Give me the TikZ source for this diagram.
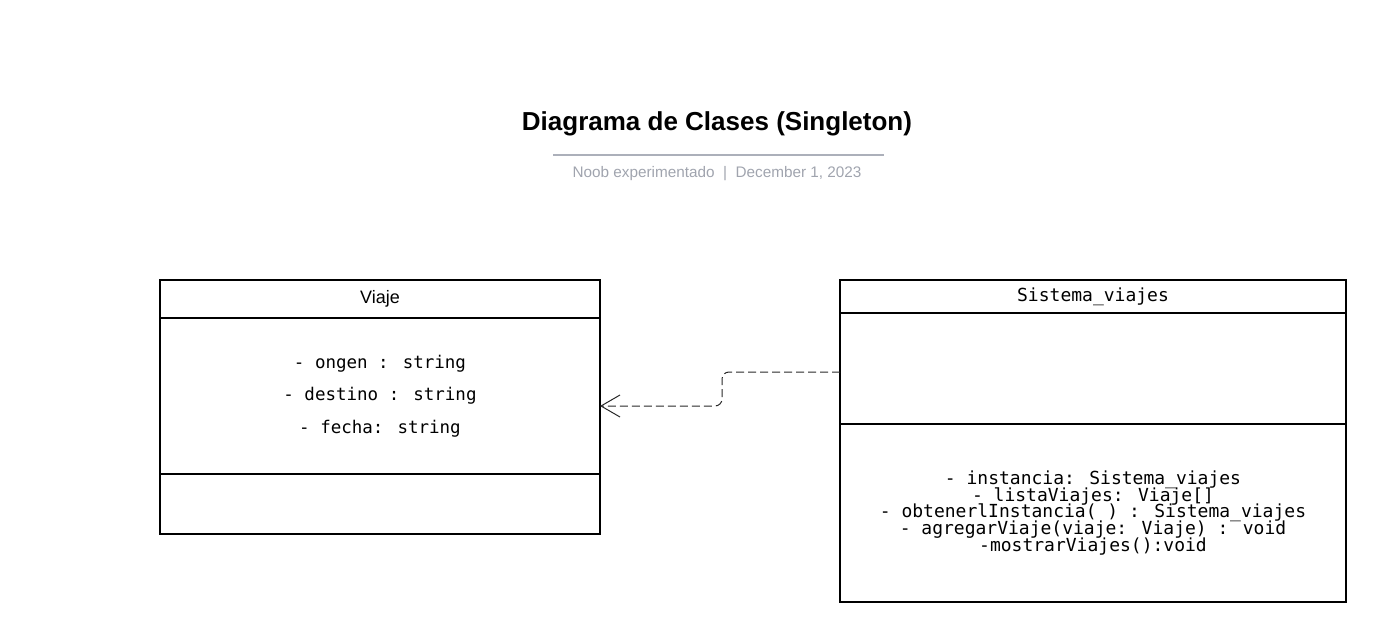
\documentclass[tikz,border=0pt]{standalone}
\usepackage{fontspec}
\setmainfont{Liberation Sans}
\newfontfamily\umlmono{DejaVu Sans Mono}
\usetikzlibrary{arrows.meta,positioning}
\definecolor{subtle}{RGB}{160,164,174}
\definecolor{rulegray}{RGB}{172,176,186}
\definecolor{depline}{RGB}{40,40,40}
\newcommand\tightlines{\lineskiplimit=-20pt\relax}

\begin{document}
\begin{tikzpicture}[x=1pt,y=-1pt,
  classbox/.style={draw,line width=1.8pt,inner sep=0pt,outer sep=0pt},
  umltext/.style={font=\umlmono\fontsize{17.5}{32.5}\selectfont,align=center},
  opstext/.style={font=\umlmono\fontsize{18}{16.8}\selectfont\tightlines,align=center},
  dep/.style={depline,line width=1pt,dash pattern=on 8pt off 4pt,rounded corners=7pt,
    -{Straight Barb[length=19pt,width=22pt,line width=1pt]}}]
\useasboundingbox (0,0) rectangle (1386,642);

\node[font=\bfseries\fontsize{26}{30}\selectfont] (title) at (717,124) {Diagrama de Clases (Singleton)};
\coordinate (ruleL) at (553,155);
\coordinate (ruleR) at (884,155);
\draw[rulegray,line width=1.5pt] (ruleL) -- (ruleR);
\node[text=subtle,font=\fontsize{15.3}{18}\selectfont] (byline) at (717,174) {Noob experimentado\ \ |\ \ December 1, 2023};

\node[classbox,minimum width=440pt,minimum height=38pt,font=\fontsize{18}{20}\selectfont] (viajeHead) at (380,299) {Viaje};
\node[classbox,minimum width=440pt,minimum height=156pt,umltext] (viajeAttr) at (380,396) {- ongen : string\\- destino : string\\- fecha: string};
\node[classbox,minimum width=440pt,minimum height=60pt] (viajeOps) at (380,504) {};

\node[classbox,minimum width=506pt,minimum height=33pt,opstext] (sisHead) at (1093,296.5) {Sistema\_viajes};
\node[classbox,minimum width=506pt,minimum height=111pt] (sisAttr) at (1093,368.5) {};
\node[classbox,minimum width=506pt,minimum height=178pt,opstext] (sisOps) at (1093,513) {- instancia: Sistema\_viajes\\- listaViajes: Viaje[]\\- obtenerlInstancia( ) : Sistema\_viajes\\- agregarViaje(viaje: Viaje) : void\\-mostrarViajes():void};

\draw[dep] ([yshift=-3.5pt]sisAttr.west) -- ++(-118,0) |- ([yshift=-10pt]viajeAttr.east);
\end{tikzpicture}
\end{document}
